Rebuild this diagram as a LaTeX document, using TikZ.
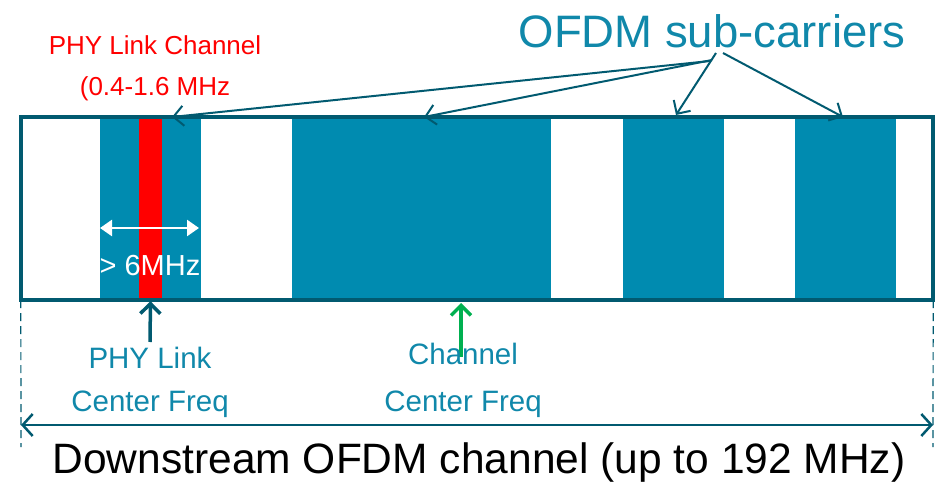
\documentclass[tikz,border=0pt]{standalone}
\usepackage{fontspec}
\setmainfont{Liberation Sans}
\usetikzlibrary{arrows.meta,calc}
\definecolor{dteal}{HTML}{015A70}
\definecolor{bteal}{HTML}{008BB0}
\definecolor{tteal}{HTML}{1088AA}
\definecolor{gr}{HTML}{00B050}
\begin{document}
\begin{tikzpicture}[x=1pt,y=-1pt,
  blk/.style={fill=bteal,draw=none,inner sep=0,outer sep=0,minimum height=184pt},
  ptr/.style={draw=dteal,line width=2pt,-{Straight Barb[length=10pt,width=20pt,line width=2pt]}},
  lbl/.style={text=tteal,font=\fontsize{29.5}{32}\selectfont,inner sep=0},
  redlbl/.style={text=red,font=\fontsize{26}{29}\selectfont,inner sep=0}]
\useasboundingbox (0,0) rectangle (938,487);
% frame interior
\node[fill=white,draw=none,minimum width=912pt,minimum height=183pt,inner sep=0] (frame) at (477,208.5) {};
% sub-carrier blocks
\node[blk,minimum width=101pt] (b1) at (150.5,209) {};
\node[blk,minimum width=259pt] (b2) at (421.5,209) {};
\node[blk,minimum width=101pt] (b3) at (673.5,209) {};
\node[blk,minimum width=101pt] (b4) at (845.5,209) {};
\node[fill=red,draw=none,inner sep=0,minimum width=23pt,minimum height=184pt] (red) at (150.5,209) {};
% outer frame border
\draw[dteal,line width=4pt] (frame.north west) rectangle (frame.south east);
% width arrow
\coordinate (wl) at (100,228);
\coordinate (wr) at (199,228);
\draw[white,line width=2.5pt,{Triangle[length=12pt,width=16pt]}-{Triangle[length=12pt,width=16pt]}] (wl) -- (wr);
\node[text=white,font=\fontsize{29}{32}\selectfont,inner sep=0] (six) at (150,266) {> 6MHz};
% top labels
\node[redlbl] (phych) at (155,45) {PHY Link Channel};
\node[redlbl] (phyrng) at (155,89) {(0.4-1.6 MHz};
\node[text=tteal,font=\fontsize{45.5}{50}\selectfont,inner sep=0] (ofdm) at (712,31) {OFDM sub-carriers};
% pointer origins and tips
\coordinate (o1) at (710,61);
\coordinate (o2) at (712,60);
\coordinate (o3) at (716,53);
\coordinate (o4) at (723,53);
\coordinate (t1) at (172,117);
\coordinate (t2) at (424,117);
\coordinate (t3) at (676,115);
\coordinate (t4) at (843,117);
\draw[ptr] (o1) -- (t1);
\draw[ptr] (o2) -- (t2);
\draw[ptr] (o3) -- (t3);
\draw[ptr] (o4) -- (t4);
% center frequency arrows
\coordinate (pa) at (150,342);
\coordinate (ca) at (461,357);
\draw[draw=dteal,line width=3.5pt,-{Straight Barb[length=10pt,width=20pt,line width=3.5pt]}] (pa) -- (red.south);
\draw[draw=gr,line width=3.5pt,-{Straight Barb[length=10pt,width=20pt,line width=3.5pt]}] (ca) -- (461,303);
\node[lbl] (pl1) at (150,358) {PHY Link};
\node[lbl] (pl2) at (150,404) {Center Freq};
\node[lbl] (cl1) at (463,354) {Channel};
\node[lbl] (cl2) at (463,404) {Center Freq};
% span
\coordinate (sl) at (21,447);
\coordinate (sr) at (933,447);
\draw[dteal,line width=1.2pt,dash pattern=on 8pt off 5pt] (frame.south west) -- (sl);
\draw[dteal,line width=1.2pt,dash pattern=on 8pt off 5pt] (frame.south east) -- (sr);
\coordinate (al) at (21,425);
\coordinate (ar) at (933,425);
\draw[dteal,line width=2.5pt,{Straight Barb[length=10pt,width=22pt,line width=2.5pt]}-{Straight Barb[length=10pt,width=22pt,line width=2.5pt]}] (al) -- (ar);
\node[text=black,font=\fontsize{42.5}{46}\selectfont,inner sep=0] (ds) at (479,463) {Downstream OFDM channel (up to 192 MHz)};
\end{tikzpicture}
\end{document}
